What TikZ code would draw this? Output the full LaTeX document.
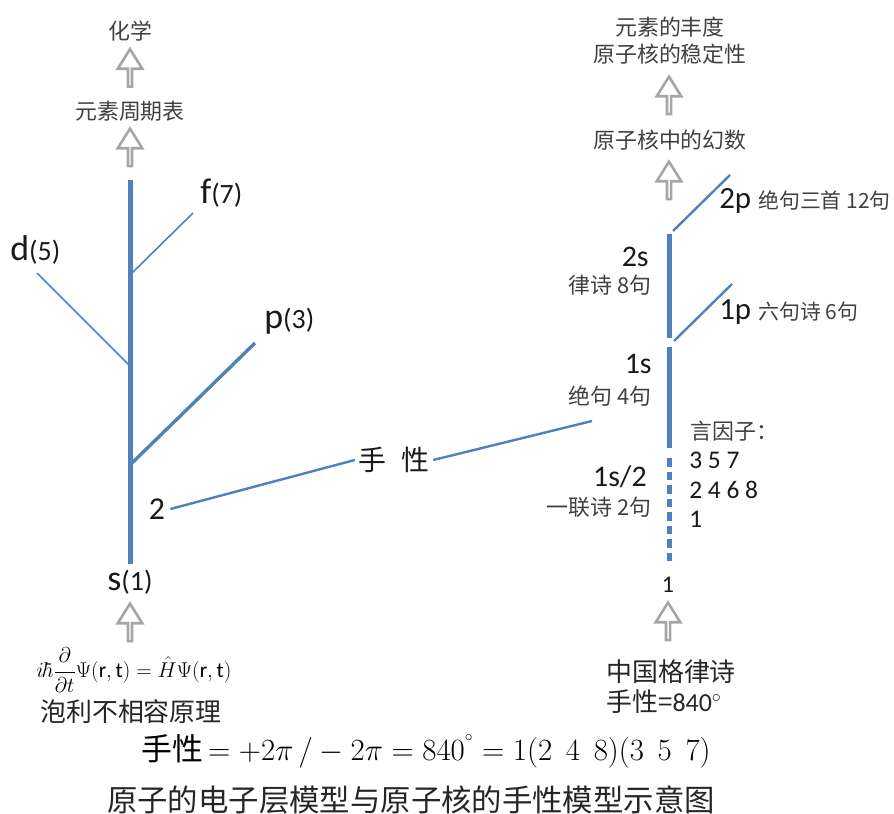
\RequirePackage{fix-cm}
\documentclass[tikz,border=0pt]{standalone}
\usepackage{amsmath}
\usepackage{fontspec}
\setmainfont{Carlito}
\newfontfamily\cjk{Noto Sans CJK SC}
\usetikzlibrary{shapes.arrows}
\definecolor{lineblue}{HTML}{4F81BD}
\definecolor{arrgray}{HTML}{A6A6A6}
\definecolor{txtgray}{HTML}{404040}

\begin{document}
\begin{tikzpicture}[x=1bp,y=-1bp,line width=0.65pt,
  uparrow/.style={single arrow,draw=arrgray,line width=2.6bp,fill=white,rotate=90,
    minimum height=37.5bp,minimum width=24.5bp,single arrow head extend=6.5bp,
    single arrow tip angle=64,inner sep=0pt},
  cjklab/.style={font=\cjk\fontsize{22}{27}\selectfont,text=txtgray,inner sep=1bp},
  biglab/.style={font=\fontsize{36}{40}\selectfont,text=black!90,inner sep=1bp},
  numlab/.style={font=\fontsize{30}{34}\selectfont,text=black!90,inner sep=1bp},
  orb/.style={draw=lineblue,line width=1.6bp},
  trunk/.style={draw=lineblue,line width=5bp},
  link/.style={draw=lineblue,line width=2.4bp}]
 \useasboundingbox (0,0) rectangle (894,814);
 % left: electron shells
 \node[cjklab] (chem) at (130,31) {化学};
 \node[uparrow] (ua1) at (130,69.5) {};
 \node[cjklab] (table) at (130,111) {元素周期表};
 \node[uparrow] (ua2) at (130,149) {};
 \coordinate (ltop) at (130,180);
 \coordinate (lbot) at (130,564);
 \coordinate (fin) at (130,275); \coordinate (fout) at (193,213);
 \coordinate (din) at (130,366); \coordinate (dout) at (37,273);
 \coordinate (pin) at (130,465); \coordinate (pout) at (255,343);
 \draw[trunk] (lbot)--(ltop);
 \draw[orb] (fin)--(fout);
 \draw[orb] (din)--(dout);
 \draw[orb,line width=3.4bp] (pin)--(pout);
 \node[biglab,anchor=west] (f) at (199,193) {f\fontsize{28}{30}\selectfont(7)};
 \node[biglab,anchor=west] (d) at (9,250) {d\fontsize{28}{30}\selectfont(5)};
 \node[biglab,anchor=west] (p) at (263,321) {p\fontsize{28}{30}\selectfont(3)};
 \node[biglab] (s) at (130,582) {s\fontsize{28}{30}\selectfont(1)};
 \node[numlab,font=\fontsize{32}{34}\selectfont] (two) at (157,509) {2};
 \node[uparrow] (ua3) at (130,624) {};
 \node[font=\fontsize{21.5}{24}\selectfont,inner sep=0pt] (schr) at (134,670)
   {$i\hbar\dfrac{\partial}{\partial t}\Psi(\mathrm{r},\mathrm{t})=\hat{H}\Psi(\mathrm{r},\mathrm{t})$};
 \node[font=\cjk\fontsize{26}{28}\selectfont,text=black!85] (pauli) at (131,712) {泡利不相容原理};
 % middle
 \node[font=\cjk\fontsize{28}{30}\selectfont,text=black!90] (hand) at (394,460) {手\hspace{0.55em}性};
 \coordinate (c1s) at (592,421);
 \draw[link] ([xshift=4bp]two.east)--(hand.west);
 \draw[link] (hand.east)--(c1s);
 % right: nucleus
 \node[cjklab,align=center] (abund) at (670,41) {元素的丰度\\原子核的稳定性};
 \node[uparrow] (ua4) at (669,97) {};
 \node[cjklab] (magic) at (670,140) {原子核中的幻数};
 \node[uparrow] (ua5) at (669,182) {};
 \coordinate (r2top) at (669,234); \coordinate (r2bot) at (669,338);
 \coordinate (r1top) at (669,347); \coordinate (r1bot) at (669,448);
 \coordinate (rhtop) at (669,458); \coordinate (rhbot) at (669,562);
 \draw[trunk] (r2top)--(r2bot);
 \draw[trunk] (r1top)--(r1bot);
 \draw[trunk,dash pattern=on 8.5bp off 5bp] (rhtop)--(rhbot);
 \coordinate (b2in) at (673,231); \coordinate (b2out) at (730,175);
 \coordinate (b1in) at (674,341); \coordinate (b1out) at (732,284);
 \draw[orb,line width=2.4bp] (b2in)--(b2out);
 \draw[orb,line width=2.4bp] (b1in)--(b1out);
 \node[numlab,font=\fontsize{31}{34}\selectfont,anchor=west] (p2) at (718,201) {2p {\cjk\fontsize{21}{24}\selectfont\color{txtgray}绝句三首 12句}};
 \node[numlab,font=\fontsize{31}{34}\selectfont,anchor=west] (p1) at (718,312) {1p {\cjk\fontsize{21}{24}\selectfont\color{txtgray}六句诗 6句}};
 \node[numlab,anchor=east] (s2) at (650,257) {2s};
 \node[cjklab,anchor=east] (s2t) at (653,285) {律诗 8句};
 \node[numlab,anchor=east] (s1) at (653,364) {1s};
 \node[cjklab,anchor=east] (s1t) at (653,396) {绝句 4句};
 \node[numlab,anchor=east] (sh) at (648,477) {1s/2};
 \node[cjklab,anchor=east] (sht) at (653,507) {一联诗 2句};
 \node[cjklab,anchor=west] (fac) at (689,431) {言因子：};
 \foreach \nm/\txt/\yy in {f357/3 5 7/460,f2468/2 4 6 8/490,f1/1/519}{%
   \node[numlab,anchor=west,font=\fontsize{25.5}{28}\selectfont] (\nm) at (688,\yy) {\txt};
 }
 \node[numlab,font=\fontsize{24}{26}\selectfont] (one) at (668,585) {1};
 \node[uparrow] (ua6) at (668,623) {};
 \node[anchor=west,font=\cjk\fontsize{26}{28}\selectfont,text=black!85,inner sep=1bp] (poem) at (605,672) {中国格律诗};
 \node[anchor=west,font=\cjk\fontsize{26}{28}\selectfont,text=black!85,inner sep=1bp] (chir) at (605,702) {手性={\fontspec{Carlito}840$^\circ$}};
 % bottom
 \node[font=\fontsize{31}{33}\selectfont,inner sep=0pt] (eq) at (426,751)
   {{\cjk 手性}$\,=+2\pi\,/-2\pi=840^{^\circ}=1(2\;\,4\;\,8)(3\;\,5\;\,7)$};
 \node[font=\cjk\fontsize{30.5}{32}\selectfont,text=black!85] (cap) at (411,800) {原子的电子层模型与原子核的手性模型示意图};
\end{tikzpicture}
\end{document}
